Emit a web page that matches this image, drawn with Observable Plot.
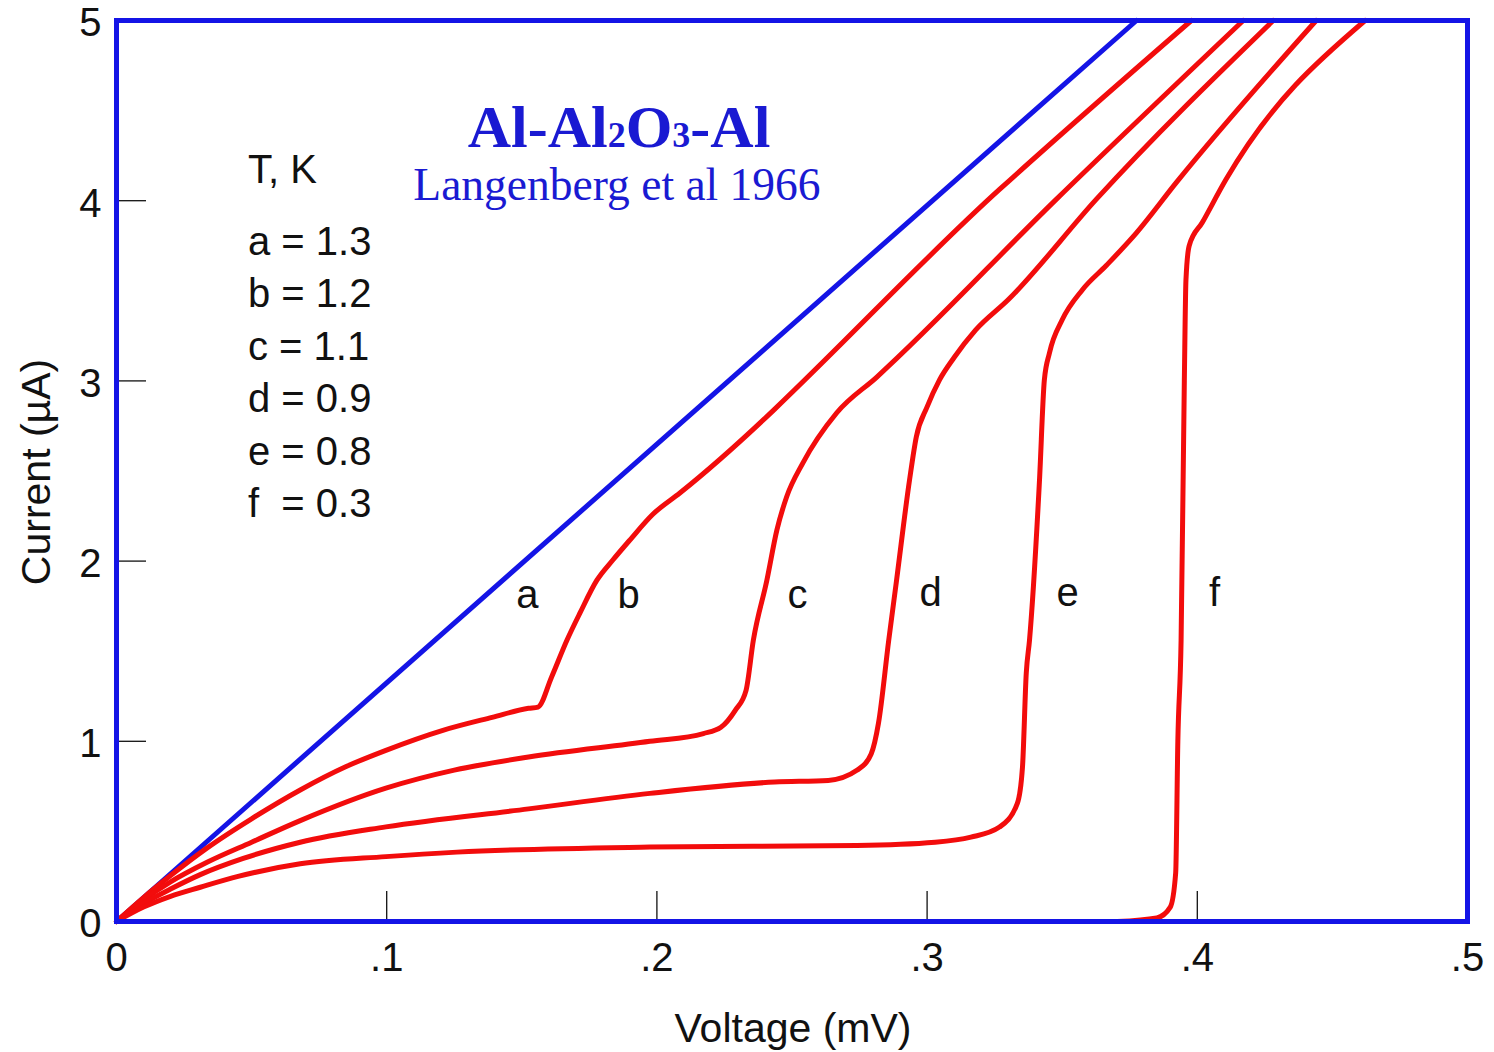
<!DOCTYPE html>
<html><head><meta charset="utf-8">
<script src="https://cdn.jsdelivr.net/npm/d3@7"></script>
<script src="https://cdn.jsdelivr.net/npm/@observablehq/plot@0.6"></script>
<style>body{margin:0;background:#fff}#chart{width:1494px;height:1052px}svg{overflow:visible}</style>
</head><body><div id="chart"></div>
<script>
// ---- data (voltage in mV, current in µA) ----
const normalV = [0, 0.3775];
const normalI = [0, 5];

const abV = [0, 0.01, 0.02, 0.0337, 0.05, 0.068, 0.085, 0.0997, 0.1208, 0.139, 0.1525, 0.156, 0.161, 0.1667, 0.1715, 0.1778, 0.1837, 0.19, 0.1985, 0.2085, 0.3267, 0.3978];
const abI = [0, 0.133, 0.255, 0.41, 0.57, 0.73, 0.86, 0.95, 1.061, 1.133, 1.183, 1.19, 1.356, 1.561, 1.711, 1.894, 2.006, 2.117, 2.26, 2.378, 4.061, 5.0];

const cV = [0, 0.01, 0.02, 0.0337, 0.05, 0.068, 0.0997, 0.125, 0.1525, 0.1974, 0.2172, 0.2237, 0.229, 0.233, 0.2357, 0.2407, 0.2444, 0.248, 0.254, 0.2665, 0.2813, 0.3477, 0.417];
const cI = [0, 0.12, 0.22, 0.33, 0.44, 0.56, 0.74, 0.84, 0.913, 1.0, 1.043, 1.078, 1.172, 1.283, 1.561, 1.894, 2.172, 2.356, 2.544, 2.822, 3.02, 4.006, 5.0];

const dV = [0, 0.01, 0.02, 0.031, 0.0469, 0.068, 0.0997, 0.1525, 0.1974, 0.2436, 0.2634, 0.274, 0.2793, 0.282, 0.2858, 0.2887, 0.2935, 0.296, 0.30, 0.3046, 0.31, 0.318, 0.33, 0.3625, 0.4281];
const dI = [0, 0.1, 0.18, 0.26, 0.35, 0.44, 0.525, 0.625, 0.711, 0.774, 0.783, 0.839, 0.93, 1.1, 1.561, 1.894, 2.45, 2.689, 2.856, 3.006, 3.13, 3.283, 3.45, 4.006, 5.0];

const eV = [0, 0.01, 0.02, 0.031, 0.045, 0.068, 0.0997, 0.126, 0.1974, 0.274, 0.303, 0.3162, 0.3268, 0.3334, 0.3353, 0.3367, 0.3379, 0.3416, 0.3434, 0.3453, 0.350, 0.3575, 0.3663, 0.3774, 0.3922, 0.444];
const eI = [0, 0.08, 0.14, 0.19, 0.25, 0.32, 0.36, 0.385, 0.413, 0.422, 0.44, 0.468, 0.524, 0.656, 0.857, 1.378, 1.561, 2.45, 3.006, 3.156, 3.339, 3.506, 3.64, 3.82, 4.1, 5.0];

const fV = [0.3704, 0.385, 0.39, 0.392, 0.3928, 0.394, 0.3952, 0.3958, 0.397, 0.4019, 0.4106, 0.4621];
const fI = [0, 0.02, 0.08, 0.27, 1.0, 1.56, 3.0, 3.56, 3.75, 3.88, 4.117, 5.0];

const curveLabels = ["a", "b", "c", "d", "e", "f"];
const curveLabelV = [0.1521, 0.1895, 0.252, 0.3013, 0.352, 0.4064];
const curveLabelI = [1.742, 1.742, 1.742, 1.75, 1.75, 1.75];

const legendLines = ["T, K", "a = 1.3", "b = 1.2", "c = 1.1", "d = 0.9", "e = 0.8", "f  = 0.3"];

const xTicks = [0, 0.1, 0.2, 0.3, 0.4, 0.5];
const yTicks = [0, 1, 2, 3, 4, 5];
const xInnerTicks = [0.1, 0.2, 0.3, 0.4];
const yInnerTicks = [1, 2, 3, 4];

// ---- build ----
const toPts = (V, I) => V.map((v, i) => ({v, i: I[i]}));
const redCurves = [[abV, abI], [cV, cI], [dV, dI], [eV, eI], [fV, fI]].map(([V, I]) => toPts(V, I));
const labels = curveLabels.map((t, k) => ({t, v: curveLabelV[k], i: curveLabelI[k]}));

const BLUE = "#1414e6", RED = "#f20c0c", INK = "#111";
const SANS = "'Liberation Sans', Arial, Helvetica, sans-serif";
const SERIF = "'Liberation Serif', 'Times New Roman', Times, serif";

const plot = Plot.plot({
  width: 1494, height: 1052,
  marginLeft: 116, marginRight: 27, marginTop: 20, marginBottom: 131,
  x: {domain: [0, 0.5]},
  y: {domain: [0, 5]},
  style: {fontFamily: SANS, background: "white", color: INK, overflow: "visible"},
  marks: [
    Plot.axisX({ticks: xTicks, tickFormat: d => d === 0 ? "0" : d3.format(".1f")(d).replace(/^0/, ""), tickSize: 0, tickPadding: 21, fontSize: 40, label: null}),
    Plot.axisY({ticks: yTicks, tickFormat: d => String(d), tickSize: 0, tickPadding: 15, fontSize: 40, dy: 3, label: null}),
    Plot.axisX({ticks: xInnerTicks, tickSize: -30, fill: "none", stroke: INK, strokeWidth: 1.3, label: null}),
    Plot.axisY({ticks: yInnerTicks, tickSize: -30, fill: "none", stroke: INK, strokeWidth: 1.3, label: null}),
    Plot.line(toPts(normalV, normalI), {x: "v", y: "i", stroke: BLUE, strokeWidth: 5}),
    ...redCurves.map(pts => Plot.line(pts, {x: "v", y: "i", stroke: RED, strokeWidth: 5, curve: "monotone-x"})),
    Plot.text(labels, {x: "v", y: "i", text: "t", fontSize: 40, textAnchor: "middle", lineAnchor: "bottom", fill: INK}),
    Plot.frame({stroke: BLUE, strokeWidth: 5})
  ]
});

const svg = d3.select(plot);
// title
const title = svg.append("text").attr("x", 619).attr("y", 147).attr("text-anchor", "middle")
  .attr("font-family", SERIF).attr("font-weight", "bold").attr("font-size", 60).attr("fill", "#1a1ad2");
title.append("tspan").text("Al-Al");
title.append("tspan").attr("font-size", 36).text("2");
title.append("tspan").text("O");
title.append("tspan").attr("font-size", 36).text("3");
title.append("tspan").text("-Al");
svg.append("text").attr("x", 617).attr("y", 200).attr("text-anchor", "middle")
  .attr("font-family", SERIF).attr("font-size", 45.5).attr("fill", "#1a1ad2").text("Langenberg et al 1966");
// legend
const legendY = [183, 255, 307, 360, 412, 465, 517];
legendLines.forEach((t, k) => {
  svg.append("text").attr("x", 248).attr("y", legendY[k]).attr("text-anchor", "start")
    .attr("font-family", SANS).attr("font-size", 40).attr("fill", INK)
    .attr("xml:space", "preserve").style("white-space", "pre").text(t);
});
// axis titles
svg.append("text").attr("transform", "translate(50,472) rotate(-90)").attr("text-anchor", "middle")
  .attr("font-family", SANS).attr("font-size", 41).attr("fill", INK).text("Current (µA)");
svg.append("text").attr("x", 793).attr("y", 1042).attr("text-anchor", "middle")
  .attr("font-family", SANS).attr("font-size", 41).attr("fill", INK).text("Voltage (mV)");

document.getElementById("chart").appendChild(plot);
</script>
</body></html>
